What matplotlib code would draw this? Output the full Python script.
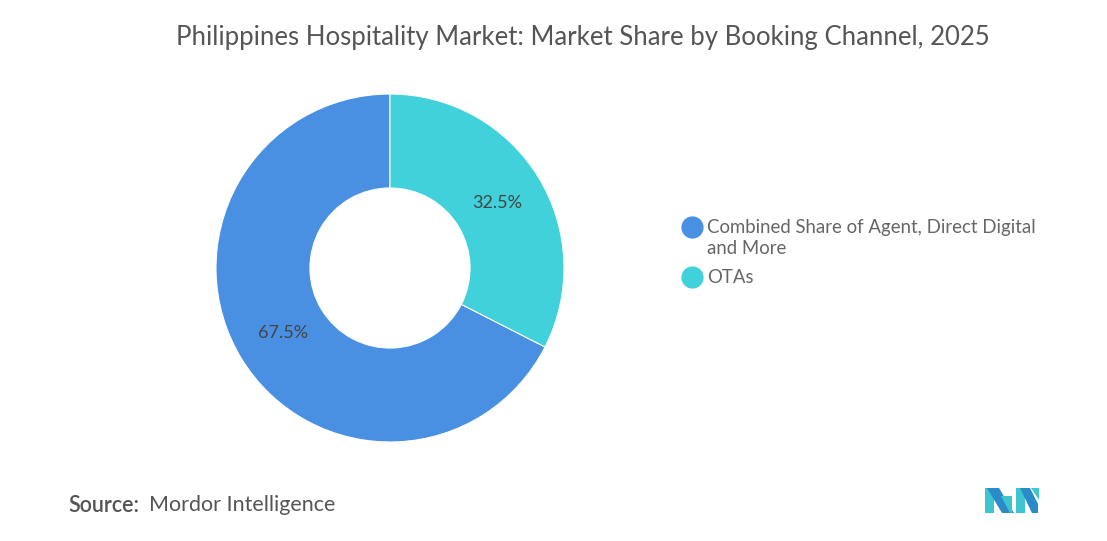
import matplotlib
matplotlib.use('Agg')
import matplotlib.pyplot as plt
from matplotlib.lines import Line2D
from matplotlib.patches import Polygon

# Data
channels = ["Combined Share of Agent, Direct Digital\nand More", "OTAs"]
shares = [67.5, 32.5]
colors = ["#4A90E2", "#40D1DB"]

W, H = 1107, 541
fig = plt.figure(figsize=(W / 100, H / 100), dpi=100)
fig.patch.set_facecolor("white")

# pie axes: centre (390, 268) px, radius 174 px
cx, cy, r = 390, 268, 174
ax = fig.add_axes([(cx - r) / W, (H - cy - r) / H, 2 * r / W, 2 * r / H])
wedges, texts, autotexts = ax.pie(
    shares, colors=colors, startangle=90, counterclock=True,
    autopct="%.1f%%", pctdistance=0.72,
    wedgeprops=dict(width=0.54, edgecolor="white", linewidth=0.8),
    textprops=dict(fontsize=13, color="#444444", family="Lato"),
)
ax.set_xlim(-1, 1)
ax.set_ylim(-1, 1)
ax.set_aspect("equal")
ax.axis("off")

fig.text(583 / W, 1 - 38 / H, "Philippines Hospitality Market: Market Share by Booking Channel, 2025",
         ha="center", va="center", fontsize=18.5, color="#555555", family="Lato")

# legend drawn by hand so the marker sits on the first text line
leg_y = [227, 277]
for lab, col, y in zip(channels, colors, leg_y):
    fig.add_artist(Line2D([692 / W], [1 - y / H], marker="o", markersize=15,
                          color=col, transform=fig.transFigure))
    fig.text(707 / W, 1 - (y - 8) / H, lab, ha="left", va="top", fontsize=13.4,
             color="#666666", family="Lato", linespacing=1.28)

fig.text(68 / W, 1 - 505 / H, "Source:", ha="left", va="center", fontsize=15.5,
         color="#555555", family="Lato", weight="semibold")
fig.text(149 / W, 1 - 505 / H, "Mordor Intelligence", ha="left", va="center", fontsize=15.5,
         color="#555555", family="Lato")

# logo
def px(pts):
    return [(x / W, 1 - y / H) for x, y in pts]

logo = [
    ([(985, 488), (994, 488), (994, 513), (985, 513)], "#3FC5CF"),
    ([(987, 488), (999, 488), (1014, 513), (1002, 513)], "#2A8BC9"),
    ([(1001, 496), (1012, 496), (1012, 513), (1010, 513)], "#3FC5CF"),
    ([(1016, 488), (1025, 488), (1025, 513), (1016, 513)], "#3FC5CF"),
    ([(1020, 488), (1030, 488), (1038, 504), (1038, 513), (1032, 513)], "#2A8BC9"),
    ([(1031, 488), (1039, 488), (1039, 500)], "#3FC5CF"),
]
for pts, col in logo:
    fig.add_artist(Polygon(px(pts), closed=True, facecolor=col, edgecolor="none",
                           transform=fig.transFigure))

fig.savefig("out.png", dpi=100, facecolor="white")
